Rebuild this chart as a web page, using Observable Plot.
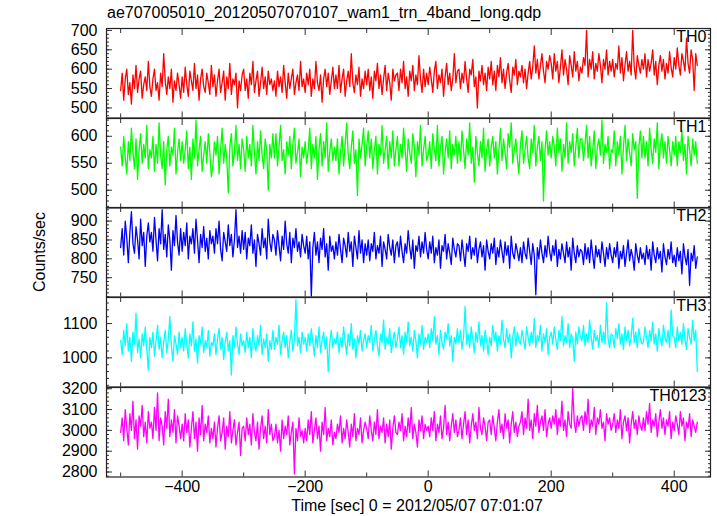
<!DOCTYPE html>
<html>
<head>
<meta charset="utf-8">
<script src="https://cdn.jsdelivr.net/npm/d3@7"></script>
<script src="https://cdn.jsdelivr.net/npm/@observablehq/plot@0.6"></script>
<style>
  html, body { margin: 0; padding: 0; background: #fff; }
  #wrap { position: relative; width: 717px; height: 516px; overflow: hidden; font-family: "Liberation Sans", Arial, Helvetica, sans-serif; color: #000; }
  .panel { position: absolute; left: 0; }
  #title { position: absolute; left: 107px; top: 4px; font-size: 16px; white-space: nowrap; }
  #ylab { position: absolute; left: 40px; top: 252px; font-size: 16px; white-space: nowrap; transform: translate(-50%, -50%) rotate(-90deg); }
  #xlab { position: absolute; left: 417px; top: 506px; font-size: 16px; white-space: nowrap; transform: translate(-50%, -50%); }
</style>
</head>
<body>
<div id="wrap">
  <div id="title">ae707005010_20120507070107_wam1_trn_4band_long.qdp</div>
  <div id="ylab">Counts/sec</div>
  <div id="xlab">Time [sec] 0 = 2012/05/07 07:01:07</div>
</div>
<script>
// ---- data (counts/sec, 2.5 s bins starting at t = -500 s) ----
const tStart = -500, tStep = 2.5;
const panelNames = ["TH0", "TH1", "TH2", "TH3", "TH0123"];
const panelColors = ["#ff0000", "#00ff00", "#0000ff", "#00ffff", "#ff00ff"];

const th0 = [
545,590,520,575,600,535,565,510,585,550,610,540,575,595,525,560,580,545,620,555,
530,575,600,545,565,520,590,555,640,570,535,580,550,600,515,570,545,590,560,525,
580,540,605,560,530,595,570,545,615,550,585,520,575,600,555,540,590,565,535,610,
555,585,530,570,600,540,565,595,520,580,550,615,535,575,560,590,500,570,545,585,
600,545,575,525,590,560,620,540,570,595,530,565,605,550,580,535,595,560,575,545,
570,530,595,555,580,540,610,565,525,590,550,575,600,535,565,585,545,620,555,575,
540,590,560,600,530,575,550,620,565,545,585,515,575,600,555,590,535,570,605,550,
585,550,610,540,575,600,530,570,595,555,640,565,540,585,560,605,530,575,550,595,
560,600,545,580,525,595,570,615,550,585,535,575,610,545,590,565,520,600,570,585,
590,545,600,565,620,550,580,530,595,570,610,545,585,560,635,575,540,600,555,590,
560,605,575,540,595,620,550,585,565,600,530,580,615,560,590,545,575,640,565,595,
600,550,590,565,620,575,540,600,585,625,555,580,500,595,570,610,560,590,545,605,
575,620,560,595,545,610,580,630,565,600,550,590,615,570,540,605,585,625,560,595,
580,610,565,600,550,590,620,575,605,660,590,625,575,610,640,595,565,620,600,635,
615,575,640,595,620,565,605,650,585,625,600,560,635,610,580,645,595,620,570,605,
590,630,610,700,580,625,600,645,575,615,595,640,610,565,625,600,650,585,620,595,
625,580,615,600,660,590,630,570,610,645,595,620,585,700,605,575,635,610,590,625,
600,640,580,625,595,615,650,585,620,560,610,635,595,625,575,615,590,645,605,580,
630,600,655,610,585,640,620,595,680,615,590,650,625,545,640,610];

const th1 = [
580,545,600,560,530,590,555,615,570,540,595,520,575,605,550,585,560,620,540,575,
560,600,535,585,550,625,565,540,590,510,575,600,545,580,565,615,530,570,595,555,
590,550,575,610,540,580,520,595,560,630,545,575,600,535,565,590,550,605,570,525,
545,590,565,600,530,575,615,550,585,560,495,580,605,545,570,620,555,585,540,595,
575,535,600,560,585,545,620,570,530,590,555,610,565,540,595,575,500,585,560,605,
560,605,545,580,620,555,575,530,590,565,600,540,585,615,550,570,595,525,580,560,
590,550,575,615,540,585,560,600,520,575,605,545,590,560,625,535,570,595,555,580,
555,595,530,570,600,545,585,625,565,540,580,610,550,575,490,595,560,585,615,545,
580,610,560,595,540,575,600,530,585,565,620,550,575,600,540,590,560,610,545,575,
600,545,585,560,615,575,535,595,570,550,605,580,525,590,565,620,545,575,600,555,
565,590,540,605,575,555,620,545,580,600,530,570,595,560,610,540,585,565,600,550,
590,555,610,575,540,595,565,625,550,580,515,600,570,545,590,560,615,535,575,595,
545,580,600,560,590,530,575,615,555,595,570,540,605,580,625,550,575,595,560,530,
585,610,550,575,600,560,540,595,570,620,545,580,600,555,590,480,575,610,565,590,
560,600,580,545,615,570,595,535,585,560,625,550,590,570,605,545,580,615,560,595,
595,555,585,620,560,600,545,575,610,540,580,595,565,630,550,585,570,600,540,575,
570,610,545,590,565,600,530,580,620,555,595,570,545,605,575,590,485,580,610,560,
600,560,590,545,615,575,550,595,570,625,540,585,605,560,590,550,600,575,545,590,
565,600,545,590,570,610,555,585,530,600,575,545,595,565,590,550];

const th2 = [
830,880,810,900,855,790,870,925,840,815,885,850,800,905,835,870,780,860,895,845,
870,820,910,850,795,880,840,930,825,865,805,890,850,770,875,835,915,845,810,880,
820,870,835,895,800,860,840,880,815,905,850,790,865,830,885,820,855,800,875,840,
860,815,880,840,900,825,795,870,845,820,890,835,865,805,850,930,830,860,815,875,
825,870,800,855,835,890,815,850,780,865,840,810,880,830,855,800,905,845,820,865,
850,810,875,835,795,860,825,900,840,815,870,790,855,830,880,820,845,805,865,835,
815,860,800,845,700,830,870,810,845,790,855,825,880,805,840,770,860,820,835,800,
845,810,865,825,790,855,835,805,870,820,845,780,860,830,800,875,815,850,790,840,
810,850,795,840,820,870,800,835,815,860,780,845,825,800,865,830,810,850,790,835,
845,805,860,820,790,840,815,875,830,800,850,775,835,820,860,805,845,815,870,825,
800,845,815,860,790,830,810,850,775,835,820,865,800,840,815,785,855,825,805,840,
835,795,850,815,780,840,820,860,800,830,810,855,790,825,845,805,835,770,850,820,
800,840,815,855,785,830,805,850,820,790,845,810,835,775,860,815,800,840,820,795,
830,790,845,815,800,855,820,785,840,810,705,830,800,850,815,790,835,805,860,820,
795,835,810,850,780,825,800,840,815,790,845,805,830,770,855,815,790,835,805,825,
820,785,840,800,830,790,850,810,775,835,805,825,790,845,815,780,830,800,840,810,
790,830,805,845,775,820,800,835,780,815,850,795,825,805,770,840,810,790,830,800,
815,785,835,800,825,770,845,810,790,830,800,820,765,840,805,785,825,800,845,790,
810,780,830,795,820,760,840,805,785,825,730,815,795,835,775,805];

const th3 = [
1050,1010,1080,1035,1100,1020,1060,990,1075,1040,1130,1015,1055,1000,1070,1035,1090,1025,965,1060,
1030,1075,1005,1050,1095,1025,1060,1000,1045,1080,1015,1055,1120,1035,990,1065,1040,1010,1075,1030,
1060,1020,1085,1040,1000,1070,1035,1105,1020,1055,985,1065,1040,1090,1015,1050,1030,1080,1005,1045,
1035,1070,1010,1055,1085,1025,1060,995,1045,1075,1020,1050,950,1065,1030,1090,1040,1010,1070,1035,
1050,1015,1075,1030,1060,1000,1085,1040,1020,1065,1035,1095,1010,1055,1030,1070,990,1050,1025,1080,
1025,1060,1040,1095,1010,1050,1075,1030,1065,1000,1045,1080,1020,1055,1170,1035,1060,1015,1075,1040,
1060,1020,1070,1035,1085,1045,1005,1065,1030,1090,1015,1050,1075,1025,1060,960,1045,1080,1030,1055,
1040,1075,1015,1060,1030,1090,1045,1010,1070,1035,1100,1025,1055,1000,1065,1040,1080,1020,1050,1070,
1030,1065,1045,1095,1020,1055,1080,1035,1005,1070,1045,1110,1025,1060,1040,1085,1015,1050,1075,1030,
1055,1090,1030,1065,1010,1075,1045,1105,1035,1060,1020,1080,1050,1000,1070,1040,1095,1025,1060,1045,
1070,1030,1085,1050,1120,1040,1065,1010,1080,1045,1025,1075,1055,1100,1035,1065,990,1060,1040,1085,
1045,1080,1025,1060,1150,1040,1070,1030,1090,1055,1015,1075,1045,1105,1035,1065,1020,1080,1050,1010,
1060,1035,1095,1050,1075,1020,1065,1040,1110,1055,1030,1085,1045,1070,1000,1060,1090,1035,1075,1050,
1040,1080,1055,1025,1090,1060,1035,1075,1045,1115,1030,1065,1050,1095,1020,1070,1045,1085,1010,1060,
1075,1040,1090,1055,1025,1080,1050,1120,1035,1065,1045,1100,1030,1070,1055,990,1075,1040,1090,1060,
1050,1095,1035,1070,1045,1110,1060,1025,1080,1050,1065,1030,1095,1045,1075,1040,1160,1055,1030,1070,
1065,1030,1085,1055,1100,1040,1070,1025,1090,1050,1080,1035,1060,1115,1045,1075,1030,1085,1055,1040,
1045,1090,1060,1030,1080,1050,1105,1040,1070,1020,1085,1055,1035,1095,1060,1045,1080,1030,1140,1065,
1060,1030,1090,1050,1075,1040,1100,1055,1025,1085,1060,1040,1110,1050,1080,960];

const th0123 = [
2990,3060,2950,3100,3010,2930,3080,3000,3140,2960,3050,2910,3070,3020,3120,2970,3040,2940,3090,3010,
3040,2960,3110,3000,3180,2950,3060,3020,2930,3090,3010,3150,2970,3050,2990,3100,2940,3070,3020,2960,
3030,2950,3080,2990,3050,2920,3010,3090,2960,3040,2900,3060,2980,3120,2950,3030,2990,3070,2940,3010,
2960,3040,2920,3010,3070,2950,2990,3060,2910,3020,2970,3090,2940,3000,3050,2930,2990,3040,2880,3010,
3020,2950,3060,2980,3030,2930,3080,2990,2950,3040,2910,3010,3070,2960,3020,2940,3100,2980,3030,2950,
2970,3030,2940,3000,2900,3050,2960,3020,2980,3070,2930,2990,3040,2790,3010,2950,3060,2970,3000,2940,
3010,2950,3050,2980,3090,2940,3000,3060,2960,3020,2900,3040,2980,3110,2950,3010,2970,3050,2930,2990,
2960,3030,2990,3070,2940,3010,2960,3050,2990,2920,3030,2970,3080,2950,3010,2980,3060,2940,3000,3040,
3010,2960,3070,3000,2950,3040,2980,3100,2960,3020,2990,3060,2940,3030,2970,3050,2910,3010,3070,2990,
2980,3040,3000,3080,2950,3020,2970,3060,2990,3110,2960,3030,2990,2920,3050,3000,3070,2960,3030,3000,
3020,2970,3060,3000,3090,2950,3030,2990,3070,2960,3010,3120,2980,3040,2950,3020,3080,2990,3050,2970,
3000,3060,2960,3030,3090,2980,3050,2940,3020,3080,3000,3040,2960,3110,3010,2980,3060,3020,2950,3040,
3050,2980,3070,3010,2950,3040,3100,2990,3030,2960,3080,3010,3050,2940,3030,3090,2990,3040,2970,3020,
3040,3090,2980,3060,3010,3150,3000,3050,2960,3080,3020,3120,2990,3040,3070,3000,3100,2970,3030,3060,
3010,3070,3030,3100,2980,3060,3020,3140,3000,3050,2970,3090,3030,3010,3200,3040,2990,3070,3020,3060,
3070,3000,3090,3030,3150,2990,3050,3020,3110,2980,3060,3030,3100,3010,3040,2950,3080,3030,3060,3000,
3030,3080,2990,3050,3010,3100,2960,3040,3070,3000,3060,2940,3030,3090,3010,3050,2980,3070,3020,3000,
3060,3000,3090,3030,3130,2990,3050,3020,3080,2970,3040,3100,3010,3060,2980,3050,3020,3090,2960,3040,
3000,3070,3030,2980,3090,3020,3060,2950,3040,3010,3080,2970,3050,3020,2990,3040];

// ---- axes / ticks ----
const xDomain = [-523, 459];
const xMajorTicks = [-400, -200, 0, 200, 400];
const xMinorTicks = [-500, -300, -100, 100, 300];
const yDomains = [[474, 705], [467, 633], [699, 936], [915, 1176], [2776, 3206]];
const yMajorTicks = [
  [500, 550, 600, 650, 700],
  [500, 550, 600],
  [750, 800, 850, 900],
  [1000, 1100],
  [2800, 2900, 3000, 3100, 3200]
];
const yMinorStep = [10, 10, 10, 20, 20];

const series = [th0, th1, th2, th3, th0123];
const panelTops = [28, 117.5, 207, 297, 386.5];
const panelH = 89.5;

const wrap = document.getElementById("wrap");
const FONT = '"Liberation Sans", Arial, Helvetica, sans-serif';

series.forEach((vals, i) => {
  const data = vals.map((v, k) => ({t: tStart + k * tStep, v}));
  const [y0, y1] = yDomains[i];
  const minor = d3.range(Math.ceil(y0 / yMinorStep[i]) * yMinorStep[i], y1, yMinorStep[i]);
  const isBottom = i === series.length - 1;
  const mb = isBottom ? 30 : 0;
  const plot = Plot.plot({
    width: 717,
    height: panelH + mb,
    marginLeft: 106,
    marginRight: 7,
    marginTop: 0,
    marginBottom: mb,
    style: {fontSize: "16px", fontFamily: FONT, background: "transparent", overflow: "visible", color: "#000"},
    x: {domain: xDomain},
    y: {domain: yDomains[i]},
    marks: [
      Plot.line(data, {x: "t", y: "v", stroke: panelColors[i], strokeWidth: 1.3, clip: true}),
      // y ticks (inward), left and right
      Plot.axisY({anchor: "left", ticks: minor, tickSize: 3, dx: 3, fill: "none", label: null, stroke: "#333"}),
      Plot.axisY({anchor: "right", ticks: minor, tickSize: 3, dx: -3, fill: "none", label: null, stroke: "#333"}),
      Plot.axisY({anchor: "left", ticks: yMajorTicks[i], tickSize: 6, dx: 6, fill: "none", label: null, stroke: "#333"}),
      Plot.axisY({anchor: "right", ticks: yMajorTicks[i], tickSize: 6, dx: -6, fill: "none", label: null, stroke: "#333"}),
      Plot.axisY({anchor: "left", ticks: yMajorTicks[i], tickSize: 0, tickPadding: 9, tickFormat: "d", label: null, fill: "#000"}),
      // x ticks (inward), top and bottom
      Plot.axisX({anchor: "bottom", ticks: xMajorTicks, tickSize: 6, dy: -6, fill: "none", label: null, stroke: "#333"}),
      Plot.axisX({anchor: "top", ticks: xMajorTicks, tickSize: 6, dy: 6, fill: "none", label: null, stroke: "#333"}),
      Plot.axisX({anchor: "bottom", ticks: xMinorTicks, tickSize: 4, dy: -4, fill: "none", label: null, stroke: "#333"}),
      Plot.axisX({anchor: "top", ticks: xMinorTicks, tickSize: 4, dy: 4, fill: "none", label: null, stroke: "#333"}),
      isBottom ? Plot.axisX({anchor: "bottom", ticks: xMajorTicks, tickSize: 0, tickPadding: 4, tickFormat: "d", label: null, fill: "#000"}) : null,
      Plot.frame({stroke: "#222", strokeWidth: 1.2}),
      Plot.text([panelNames[i]], {text: d => d, frameAnchor: "top-right", textAnchor: "end", lineAnchor: "top", dx: -4, dy: 2, fontSize: 16, fill: "#000"})
    ]
  });
  plot.classList.add("panel");
  plot.style.top = panelTops[i] + "px";
  wrap.appendChild(plot);
});
</script>
</body>
</html>
